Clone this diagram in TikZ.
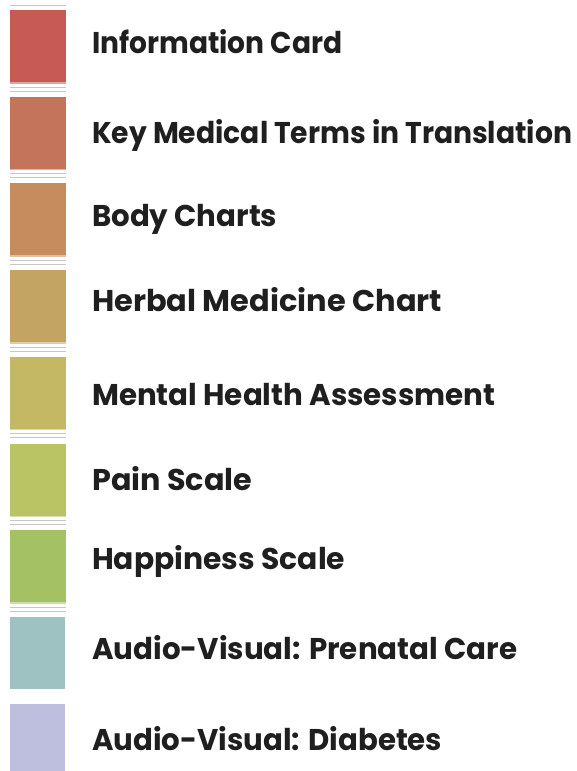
\documentclass[tikz,border=0pt]{standalone}
\usepackage{fontspec}
\setmainfont{Poppins}
\definecolor{cardred}{RGB}{200,90,86}
\definecolor{termrust}{RGB}{196,116,90}
\definecolor{bodytan}{RGB}{198,140,94}
\definecolor{herbocre}{RGB}{196,164,98}
\definecolor{mentalolive}{RGB}{196,184,100}
\definecolor{painlime}{RGB}{186,196,100}
\definecolor{happygreen}{RGB}{164,194,100}
\definecolor{prenatalteal}{RGB}{158,194,194}
\definecolor{diablue}{RGB}{190,190,222}
\newcommand\fitlabel[2]{\resizebox{#1pt}{\height}{#2}}

\begin{document}
\begin{tikzpicture}[x=1pt,y=-1pt,
    rule/.style={draw=black!22,line width=1pt},
    entry/.style={anchor=base west,inner sep=0pt,text=black!88,
        font={\fontsize{30}{30}\selectfont\bfseries}}]
\useasboundingbox (0,0) rectangle (577,771);
\draw[rule] (10,5)--(66,5);
% swatches with the two rules under them
\foreach \i/\c in {1/cardred,2/termrust,3/bodytan,4/herbocre,
    5/mentalolive,6/painlime,7/happygreen}{
  \pgfmathsetmacro\top{10+86.7*(\i-1)}
  \fill[\c] (10,\top) rectangle (66,\top+72);
  \fill[\c!55!white] (10,\top+72) rectangle (66,\top+73.5);
  \draw[rule] (10,\top+77)--(66,\top+77);
  \draw[rule] (10,\top+81)--(66,\top+81);
}
\fill[prenatalteal] (10,617) rectangle (65,689);
\fill[diablue] (10,704) rectangle (65,771);
% labels
\foreach \n/\w/\b/\t in {card/250/53/Information Card,
    terms/480/143/Key Medical Terms in Translation,
    body/185/226/Body Charts,
    herbal/350/311/Herbal Medicine Chart,
    mental/403/405/Mental Health Assessment,
    pain/160/490/Pain Scale,
    happy/253/569/Happiness Scale,
    prenatal/425/659/Audio-Visual: Prenatal Care,
    diabetes/350/750/Audio-Visual: Diabetes}
  \node[entry] (\n) at (92,\b) {\fitlabel{\w}{\t}};
\end{tikzpicture}
\end{document}
